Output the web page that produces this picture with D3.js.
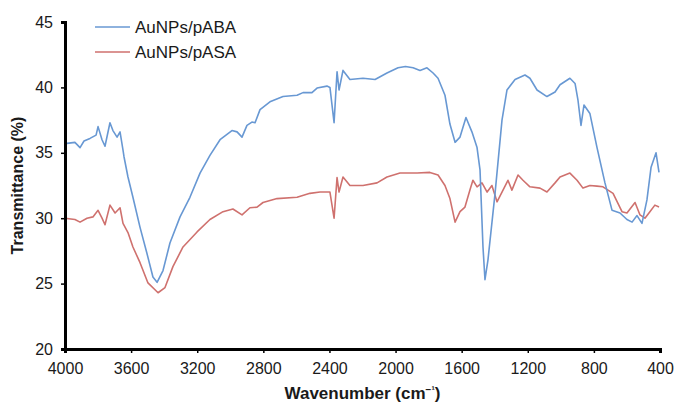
<!DOCTYPE html>
<html>
<head>
    <meta charset="utf-8">
    <script src="https://d3js.org/d3.v7.min.js"></script>
    <style>
        body { margin: 0; background: #fff; }
        text { font-family: "Liberation Sans", Arial, sans-serif; fill: #1a1a1a; }
    </style>
</head>
<body>
    <div class="chart"></div>
    <script>
        // series names (legend)
        var names = ["AuNPs/pABA", "AuNPs/pASA"];
        var colors = ["#6898d3", "#cf716e"];

        // AuNPs/pABA : wavenumber (cm-1) and transmittance (%)
        var abaWave = [4000,3940,3909,3885,3849,3812,3800,3776,3758,3728,3710,3685,3667,3649,3643,3619,3589,3546,3504,3468,3443,3407,3365,3304,3244,3183,3123,3062,2990,2959,2929,2899,2869,2850,2820,2760,2681,2596,2560,2506,2475,2415,2397,2372,2354,2342,2318,2276,2197,2124,2052,1985,1940,1894,1852,1810,1773,1743,1701,1671,1640,1610,1574,1538,1507,1489,1471,1459,1441,1398,1356,1326,1277,1217,1187,1144,1084,1035,1005,945,914,896,878,860,824,781,733,690,642,600,569,539,509,479,454,424,406];
        var abaT    = [35.7,35.8,35.4,35.9,36.1,36.35,37.0,36.0,35.5,37.3,36.7,36.2,36.6,35.2,34.7,33.15,31.6,29.3,27.3,25.5,25.1,26.0,28.1,30.1,31.6,33.45,34.8,36.0,36.7,36.6,36.2,37.1,37.35,37.3,38.3,38.9,39.3,39.4,39.6,39.6,39.95,40.1,40.0,37.3,41.2,39.8,41.3,40.6,40.7,40.6,41.1,41.5,41.6,41.5,41.3,41.5,41.1,40.7,39.4,37.2,35.8,36.2,37.7,36.6,35.4,33.7,27.8,25.3,26.8,31.9,37.5,39.8,40.6,40.95,40.7,39.8,39.3,39.65,40.2,40.7,40.3,39.0,37.1,38.65,38.0,35.4,32.7,30.6,30.4,29.9,29.7,30.2,29.6,31.4,33.9,35.0,33.5];

        // AuNPs/pASA
        var asaWave = [4000,3940,3909,3867,3831,3800,3776,3758,3728,3697,3667,3649,3619,3589,3546,3498,3437,3395,3347,3286,3201,3123,3044,2984,2929,2881,2838,2802,2717,2596,2518,2457,2397,2372,2354,2342,2318,2276,2197,2112,2052,1973,1870,1792,1743,1701,1671,1640,1610,1580,1550,1532,1507,1477,1446,1417,1386,1356,1320,1296,1259,1229,1187,1126,1084,1035,1005,945,902,866,824,781,745,684,630,600,551,521,491,461,431,406];
        var asaT    = [30.0,29.9,29.7,30.0,30.1,30.6,30.0,29.5,31.0,30.4,30.8,29.6,28.9,27.8,26.6,25.05,24.3,24.7,26.3,27.8,28.95,29.9,30.5,30.7,30.25,30.8,30.85,31.2,31.5,31.6,31.9,32.0,32.0,30.0,33.1,32.0,33.15,32.5,32.5,32.7,33.15,33.45,33.45,33.5,33.3,32.5,31.5,29.7,30.5,30.85,32.15,32.9,32.4,32.7,32.0,32.5,31.25,32.0,32.9,32.15,33.3,32.9,32.4,32.3,32.0,32.7,33.15,33.45,32.9,32.3,32.5,32.45,32.4,31.9,30.5,30.4,31.2,30.25,30.0,30.5,31.0,30.85];

        // axis ticks
        var xTicks = [4000,3600,3200,2800,2400,2000,1600,1200,800,400];
        var yTicks = [20,25,30,35,40,45];

        var w = 683;
        var h = 405;
        var m = {top: 22, right: 23, bottom: 56, left: 65};

        var xScale = d3.scaleLinear().domain([4000,400]).range([m.left, w-m.right]);
        var yScale = d3.scaleLinear().domain([20,45]).range([h-m.bottom, m.top]);

        var svg = d3.select("div.chart")
            .append("svg")
            .attr("width", w)
            .attr("height", h);

        var series = [
            abaWave.map(function(d,i){ return {x: d, y: abaT[i]}; }),
            asaWave.map(function(d,i){ return {x: d, y: asaT[i]}; })
        ];

        var line = d3.line()
            .x(function(d){ return xScale(d.x); })
            .y(function(d){ return yScale(d.y); });

        // draw pASA first so pABA sits on top
        [1,0].forEach(function(k){
            svg.append("path")
                .attr("fill","none")
                .attr("stroke",colors[k])
                .attr("stroke-width",1.6)
                .attr("stroke-linejoin","round")
                .attr("d", line(series[k]));
        });

        var xAxis = d3.axisBottom(xScale).tickValues(xTicks).tickSize(4).tickPadding(10).tickFormat(d3.format("d"));
        var yAxis = d3.axisLeft(yScale).tickValues(yTicks).tickSize(4).tickPadding(8);

        var gx = svg.append("g")
            .attr("transform", "translate(0," + (h-m.bottom) + ")")
            .call(xAxis);
        var gy = svg.append("g")
            .attr("transform", "translate(" + m.left + ",0)")
            .call(yAxis);

        [gx, gy].forEach(function(g){
            g.select(".domain").attr("stroke","#000").attr("stroke-width",3);
            g.selectAll(".tick line").attr("stroke","#000").attr("stroke-width",1.5);
            g.selectAll(".tick text").attr("font-size",16).attr("font-family","'Liberation Sans', Arial, sans-serif").attr("fill","#1a1a1a");
        });

        // axis titles
        var xt = svg.append("text")
            .attr("x", (m.left + w - m.right)/2)
            .attr("y", 399)
            .attr("text-anchor","middle")
            .attr("font-size",17)
            .attr("font-weight","bold");
        xt.append("tspan").text("Wavenumber (cm");
        xt.append("tspan").attr("dy",-6).attr("font-size",10).text("\u2212\u00B9");
        xt.append("tspan").attr("dy",6).text(")");

        svg.append("text")
            .attr("transform","translate(23," + ((m.top + h - m.bottom)/2) + ") rotate(-90)")
            .attr("text-anchor","middle")
            .attr("font-size",16)
            .attr("font-weight","bold")
            .text("Transmittance (%)");

        // legend
        var legend = svg.append("g").attr("transform","translate(95,27)");
        names.forEach(function(n,i){
            legend.append("line")
                .attr("x1",0).attr("x2",35)
                .attr("y1",i*25).attr("y2",i*25)
                .attr("stroke",colors[i]).attr("stroke-width",1.6);
            legend.append("text")
                .attr("x",40).attr("y",i*25)
                .attr("dy","0.35em")
                .attr("font-size",17)
                .text(n);
        });
    </script>
</body>
</html>
